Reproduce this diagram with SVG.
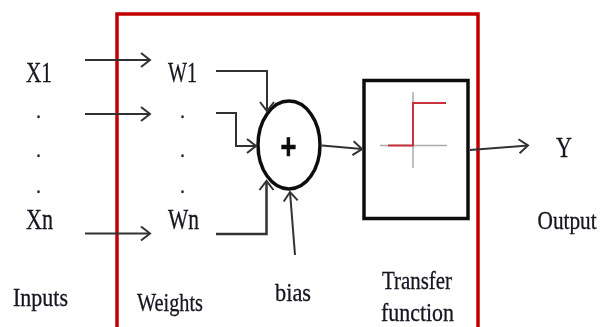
<svg xmlns="http://www.w3.org/2000/svg" width="600" height="327" viewBox="0 0 600 327">
<style>
text{font-family:"Liberation Serif",serif;fill:#14141e;stroke:#14141e;stroke-width:0.3}
.m{font-size:30px}
.s{font-size:26px}
.d{font-size:20px;text-anchor:middle;fill:#333}
.c{fill:none;stroke:#333;stroke-width:2}
</style>
<defs>
<marker id="a" markerUnits="userSpaceOnUse" markerWidth="14" markerHeight="18" refX="11" refY="9" orient="auto"><path d="M2,2L11,9L2,16" fill="none" stroke="#333" stroke-width="2"/></marker>
<filter id="soft" filterUnits="userSpaceOnUse" x="0" y="0" width="600" height="327"><feGaussianBlur stdDeviation="0.35"/></filter>
</defs>
<rect width="600" height="327" fill="#fff"/>
<g filter="url(#soft)">
<path id="frame" d="M117,340V14H478V340" fill="none" stroke="#c00000" stroke-width="3.500"/>
<g id="x1"><text class="m" x="26" y="82" textLength="26" lengthAdjust="spacingAndGlyphs">X1</text></g>
<g id="xdots"><text class="d" x="38.500" y="118">.</text><text class="d" x="38.500" y="157">.</text><text class="d" x="38.500" y="193">.</text></g>
<g id="xn"><text class="m" x="26" y="229" textLength="27" lengthAdjust="spacingAndGlyphs">Xn</text></g>
<g id="inputs"><text class="s" x="13" y="306" textLength="55" lengthAdjust="spacingAndGlyphs">Inputs</text></g>
<g id="w1"><text class="m" x="168" y="82" textLength="29" lengthAdjust="spacingAndGlyphs">W1</text></g>
<g id="wdots"><text class="d" x="182.500" y="118">.</text><text class="d" x="182.500" y="157">.</text><text class="d" x="182.500" y="193">.</text></g>
<g id="wn"><text class="m" x="168" y="229" textLength="31" lengthAdjust="spacingAndGlyphs">Wn</text></g>
<g id="weights"><text class="s" x="137" y="311" textLength="66" lengthAdjust="spacingAndGlyphs">Weights</text></g>
<g id="sum"><ellipse cx="289" cy="145" rx="31" ry="44" fill="#fff" stroke="#111" stroke-width="3.500"/><text transform="translate(288.500,158.500) scale(1,1.300)" style="font-family:'Liberation Sans',sans-serif;font-weight:bold;font-size:28px;text-anchor:middle;fill:#111">+</text></g>
<g id="bias"><text class="s" x="275" y="301" textLength="36" lengthAdjust="spacingAndGlyphs">bias</text></g>
<g id="transfer"><rect x="364" y="80.500" width="104" height="138" fill="#fff" stroke="#111" stroke-width="3.500"/>
<path d="M413,92V168M380,145.500H447" fill="none" stroke="#aaa" stroke-width="1.500"/>
<path d="M388,145.500H413V103H446" fill="none" stroke="#c8323c" stroke-width="2"/></g>
<g id="y"><text class="m" x="556" y="157" textLength="16" lengthAdjust="spacingAndGlyphs">Y</text></g>
<g id="output"><text class="s" transform="translate(537.500,229) scale(0.82,1)">Output</text></g>
<g id="transfertext"><text class="s" x="382" y="289" textLength="70" lengthAdjust="spacingAndGlyphs">Transfer</text><text class="s" x="381" y="321" textLength="73" lengthAdjust="spacingAndGlyphs">function</text></g>
<g id="connectors">
<path class="c" d="M85,60H150" marker-end="url(#a)"/>
<path class="c" d="M85,114H150" marker-end="url(#a)"/>
<path class="c" d="M85,233.500H150" marker-end="url(#a)"/>
<path class="c" d="M216,71H267V111" marker-end="url(#a)"/>
<path class="c" d="M216,113H236V146H256" marker-end="url(#a)"/>
<path class="c" style="stroke-width:2.500" d="M216,234H266.500V181" marker-end="url(#a)"/>
<path class="c" d="M295,255L290,192" marker-end="url(#a)"/>
<path class="c" d="M322,145.500L362,149" marker-end="url(#a)"/>
<path class="c" d="M470,150L528,145.500" marker-end="url(#a)"/>
</g>
</g>
</svg>
